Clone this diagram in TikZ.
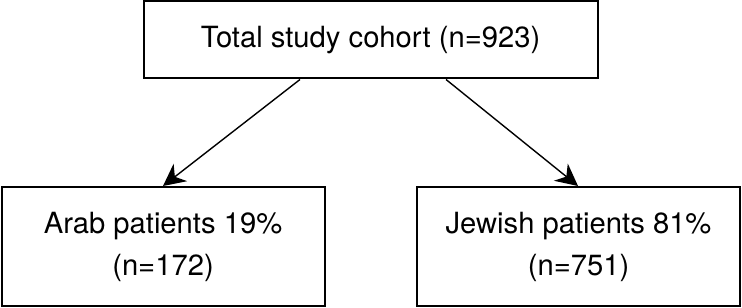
\documentclass[tikz,border=0pt]{standalone}
\usepackage{fontspec}
\setmainfont{TeX Gyre Heros}
\usetikzlibrary{arrows.meta}
\begin{document}
\begin{tikzpicture}[x=0.5pt,y=-0.5pt,
  box/.style={draw=black,line width=1pt,inner sep=0pt,align=center,
    font=\fontsize{14.6}{21}\selectfont},
  conn/.style={line width=0.7pt,-{Stealth[length=11pt,width=11pt,inset=3.5pt]}}]
\useasboundingbox (0,0) rectangle (742,308);
\node[box,minimum width=227pt,minimum height=38.5pt] (top) at (370.5,40) {Total study cohort (n=923)};
\node[box,minimum width=161.5pt,minimum height=59.5pt] (arab) at (163,246.5) {Arab patients 19\%\\(n=172)};
\node[box,minimum width=161.5pt,minimum height=59.5pt] (jew) at (578.5,246.5) {Jewish patients 81\%\\(n=751)};
\draw[conn] (top.south -| 300,0) -- (arab.north -| 163,0);
\draw[conn] (top.south -| 446,0) -- (jew.north -| 578,0);
\end{tikzpicture}
\end{document}
